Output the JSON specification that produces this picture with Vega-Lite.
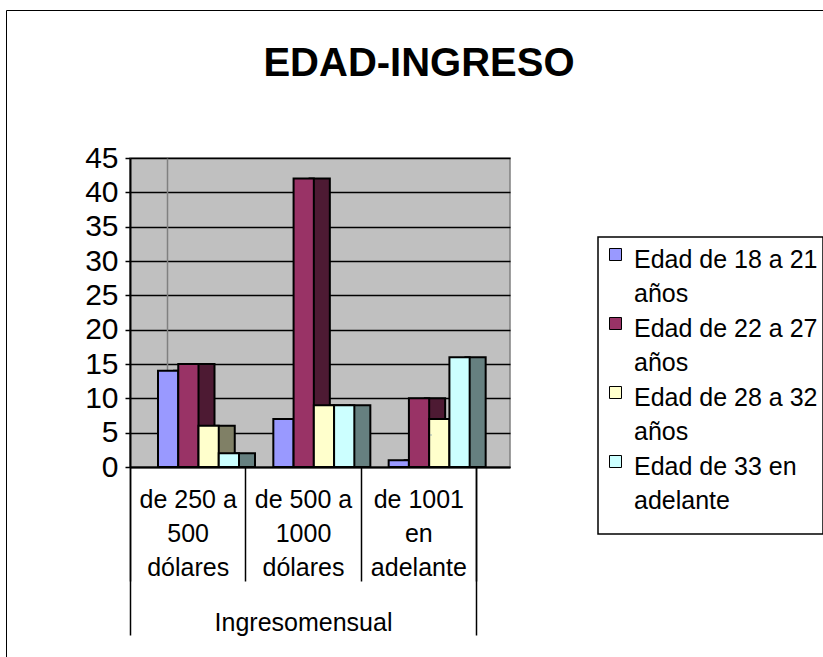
{
  "$schema": "https://vega.github.io/schema/vega-lite/v6.json",
  "autosize": {"type": "none"},
  "padding": {"left": 130, "top": 158, "right": 313, "bottom": 190},
  "width": 380,
  "height": 309,
  "background": "white",
  "config": {
    "font": "Liberation Sans",
    "view": {"fill": "#C0C0C0", "stroke": "#808080", "strokeWidth": 1.5},
    "style": {"guide-label": {"lineHeight": 34.5}}
  },
  "title": {
    "text": "EDAD-INGRESO",
    "fontSize": 40,
    "fontWeight": "bold",
    "font": "Liberation Sans",
    "color": "black",
    "anchor": "middle",
    "frame": "group",
    "dx": 99,
    "offset": -74
  },
  "data": {
    "values": [
      {"cat": "de 250 a 500 dólares", "serie": "Edad de 18 a 21 años", "valor": 14},
      {"cat": "de 250 a 500 dólares", "serie": "Edad de 22 a 27 años", "valor": 15},
      {"cat": "de 250 a 500 dólares", "serie": "Edad de 28 a 32 años", "valor": 6},
      {"cat": "de 250 a 500 dólares", "serie": "Edad de 33 en adelante", "valor": 2},
      {"cat": "de 500 a 1000 dólares", "serie": "Edad de 18 a 21 años", "valor": 7},
      {"cat": "de 500 a 1000 dólares", "serie": "Edad de 22 a 27 años", "valor": 42},
      {"cat": "de 500 a 1000 dólares", "serie": "Edad de 28 a 32 años", "valor": 9},
      {"cat": "de 500 a 1000 dólares", "serie": "Edad de 33 en adelante", "valor": 9},
      {"cat": "de 1001 en adelante", "serie": "Edad de 18 a 21 años", "valor": 1},
      {"cat": "de 1001 en adelante", "serie": "Edad de 22 a 27 años", "valor": 10},
      {"cat": "de 1001 en adelante", "serie": "Edad de 28 a 32 años", "valor": 7},
      {"cat": "de 1001 en adelante", "serie": "Edad de 33 en adelante", "valor": 16}
    ]
  },
  "layer": [
    {
      "encoding": {
        "x": {
          "field": "cat", "type": "nominal",
          "scale": {"domain": ["de 250 a 500 dólares", "de 500 a 1000 dólares", "de 1001 en adelante"], "range": [0, 380], "paddingInner": 0, "paddingOuter": 0.1474, "align": 0},
          "axis": {
            "title": null,
            "tickBand": "extent",
            "tickSize": 114,
            "tickColor": "black",
            "tickWidth": 1.5,
            "domainColor": "black",
            "domainWidth": 2,
            "labelFontSize": 25,
            "labelColor": "black",
            "labelAngle": 0,
            "labelLineHeight": 34,
            "labelPadding": -94,
            "labelLimit": 200,
            "labelExpr": "datum.value == 'de 250 a 500 dólares' ? ['de 250 a','500','dólares'] : datum.value == 'de 500 a 1000 dólares' ? ['de 500 a','1000','dólares'] : datum.value == 'de 1001 en adelante' ? ['de 1001','en','adelante'] : ''"
          }
        }
      },
      "layer": [
        {
          "mark": {"type": "bar", "stroke": "black", "strokeWidth": 2},
          "encoding": {
            "xOffset": {
              "field": "serie", "type": "nominal",
              "scale": {"domain": ["Edad de 18 a 21 años", "Edad de 22 a 27 años", "Edad de 28 a 32 años", "Edad de 33 en adelante"], "range": [44, 125], "paddingInner": 0, "paddingOuter": 0}
            },
            "y": {
              "field": "valor", "type": "quantitative",
              "scale": {"domain": [0, 45]},
              "axis": {"orient": "right", "offset": -343, "labels": false, "ticks": false, "grid": false, "title": null, "domainColor": "#808080", "domainWidth": 1.5}
            },
            "fill": {
              "field": "serie", "type": "nominal",
              "scale": {"domain": ["Edad de 33 en adelante", "Edad de 28 a 32 años", "Edad de 22 a 27 años", "Edad de 18 a 21 años"], "range": ["#668080", "#808066", "#4D1A33", "#4D4D80"]},
              "legend": null
            }
          }
        },
        {
          "mark": {"type": "bar", "stroke": "black", "strokeWidth": 2},
          "encoding": {
            "xOffset": {
              "field": "serie", "type": "nominal",
              "scale": {"domain": ["Edad de 18 a 21 años", "Edad de 22 a 27 años", "Edad de 28 a 32 años", "Edad de 33 en adelante"], "range": [28, 109], "paddingInner": 0, "paddingOuter": 0}
            },
            "y": {
              "field": "valor", "type": "quantitative",
              "axis": {
                "orient": "left",
                "title": null,
                "values": [0, 5, 10, 15, 20, 25, 30, 35, 40, 45],
                "labelFontSize": 30,
                "labelColor": "black",
                "labelPadding": 7,
                "tickSize": 5,
                "tickColor": "black",
                "tickWidth": 1.5,
                "domainColor": "black",
                "domainWidth": 2,
                "grid": true,
                "gridColor": "black",
                "gridWidth": 1.5,
                "gridOpacity": 1
              }
            },
            "color": {
              "field": "serie", "type": "nominal",
              "scale": {"domain": ["Edad de 18 a 21 años", "Edad de 22 a 27 años", "Edad de 28 a 32 años", "Edad de 33 en adelante"], "range": ["#9999FF", "#993366", "#FFFFCC", "#CCFFFF"]},
              "legend": {
                "orient": "none",
                "legendX": 468,
                "legendY": 79,
                "title": " ",
                "titleOrient": "bottom",
                "titleFontSize": 12,
                "titlePadding": 4,
                "labelFontSize": 25,
                "labelColor": "black",
                "labelLimit": 400,
                "symbolType": "square",
                "symbolSize": 144,
                "symbolStrokeColor": "black",
                "symbolStrokeWidth": 1,
                "labelOffset": 6,
                "rowPadding": 4,
                "padding": 5,
                "strokeColor": "black",
                "labelBaseline": "alphabetic",
                "labelExpr": "datum.label == 'Edad de 33 en adelante' ? ['Edad de 33 en','adelante'] : [slice(datum.label, 0, -5), 'años']",
                "encode": {
                  "labels": {"update": {"dy": {"value": 13}}},
                  "legend": {"update": {"strokeWidth": {"value": 1.5}}}
                }
              }
            }
          }
        }
      ],
      "resolve": {"scale": {"xOffset": "independent"}, "axis": {"y": "independent"}}
    },
    {
      "mark": {"type": "bar", "fillOpacity": 0, "strokeOpacity": 0},
      "encoding": {
        "x": {
          "datum": "Ingresomensual", "type": "nominal",
          "scale": {"domain": ["Ingresomensual"], "range": [0, 380], "paddingInner": 0, "paddingOuter": 0.0491, "align": 0},
          "axis": {
            "orient": "bottom",
            "title": null,
            "domain": false,
            "tickBand": "extent",
            "tickSize": 168,
            "tickColor": "black",
            "tickWidth": 1.5,
            "labelFontSize": 25,
            "labelColor": "black",
            "labelAngle": 0,
            "labelPadding": -25,
            "labelLimit": 300,
            "labelExpr": "datum.value == 'Ingresomensual' ? 'Ingresomensual' : ''"
          }
        },
        "opacity": {
          "datum": "borde", "type": "ordinal",
          "scale": {"domain": ["borde"], "range": [0]},
          "legend": {
            "orient": "none",
            "legendX": -124,
            "legendY": -148,
            "title": null,
            "padding": 420,
            "strokeColor": "black",
            "labelExpr": "''",
            "symbolOpacity": 0,
            "symbolSize": 1,
            "encode": {"legend": {"update": {"strokeWidth": {"value": 2}}}}
          }
        }
      }
    }
  ],
  "resolve": {
    "scale": {"x": "independent"},
    "axis": {"x": "independent"}
  }
}
